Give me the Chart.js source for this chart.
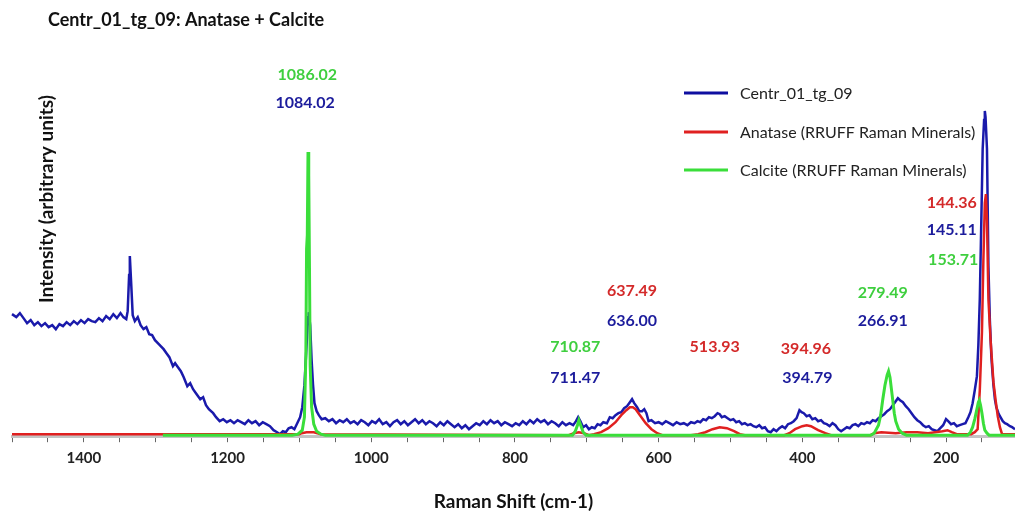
<!DOCTYPE html>
<html>
<head>
<meta charset="utf-8">
<title>Centr_01_tg_09: Anatase + Calcite</title>
<script src="https://cdn.jsdelivr.net/npm/chart.js@4.4.1/dist/chart.umd.min.js"></script>
<style>
  html, body { margin: 0; padding: 0; background: #ffffff; }
  #wrap { width: 1015px; height: 513px; position: relative; }
</style>
</head>
<body>
<div id="wrap"><canvas id="ramanChart" width="1015" height="513"></canvas></div>
<script>
// Raman shift (cm-1) / intensity pairs
const sampleSpectrum = [
  [1500,121],[1494,118],[1489,122],[1484,117],[1479,112],[1474,115],[1469,110],[1464,113],[1459,109],[1454,112],
  [1449,108],[1444,110],[1439,106],[1434,111],[1429,109],[1424,113],[1419,110],[1414,114],[1409,111],[1404,115],
  [1399,112],[1394,116],[1389,114],[1384,113],[1379,117],[1374,114],[1369,119],[1364,116],[1359,121],[1354,117],
  [1349,122],[1345,118],[1341,116],[1339,124],[1337,160],[1336,179],[1334,150],[1332,120],[1329,114],[1325,118],
  [1321,110],[1317,106],[1313,108],[1309,101],[1305,100],[1301,95],[1297,92],[1293,89],[1289,86],[1285,82],
  [1281,78],[1276,69],[1273,72],[1269,68],[1265,64],[1261,58],[1256,49],[1252,52],[1248,46],[1244,42],
  [1238,36],[1234,38],[1230,30],[1226,26],[1220,22],[1216,18],[1211,14],[1206,16],[1201,13],[1196,15],
  [1191,12],[1186,15],[1181,13],[1176,11],[1171,15],[1166,12],[1161,14],[1156,10],[1151,13],[1146,11],
  [1141,9],[1136,5],[1131,3],[1127,1],[1123,4],[1119,3],[1115,7],[1111,8],[1107,6],[1103,12],
  [1099,18],[1096,28],[1093,50],[1090,90],[1088,118],[1087,123],[1085,110],[1083,75],[1081,50],[1079,32],
  [1076,24],[1073,20],[1069,16],[1064,17],[1059,14],[1054,16],[1049,12],[1044,15],[1039,13],[1034,16],
  [1029,12],[1024,14],[1019,11],[1014,15],[1009,13],[1004,10],[999,14],[994,12],[989,16],[984,11],
  [979,13],[974,9],[969,13],[964,15],[959,11],[954,14],[949,10],[944,13],[939,16],[934,12],
  [929,15],[924,11],[919,14],[914,12],[909,9],[904,13],[899,10],[894,14],[889,11],[884,8],
  [879,11],[874,7],[869,10],[864,6],[859,9],[854,12],[849,10],[844,14],[839,11],[834,15],
  [829,12],[824,14],[819,10],[814,13],[809,11],[804,9],[799,12],[794,10],[789,14],[784,11],
  [779,15],[774,12],[769,16],[764,13],[759,15],[754,11],[749,14],[744,12],[739,9],[734,13],
  [729,10],[724,12],[719,10],[715,14],[712,18],[709,14],[705,8],[701,10],[697,6],[693,8],
  [689,7],[685,11],[681,10],[677,13],[672,12],[668,18],[664,17],[660,20],[656,22],[652,23],
  [648,27],[644,29],[640,33],[637,36],[634,32],[630,28],[627,24],[623,24],[620,26],[617,22],
  [614,14],[610,15],[605,12],[600,13],[595,11],[590,14],[585,12],[580,10],[575,13],[570,11],
  [565,12],[560,10],[555,13],[550,12],[546,14],[542,13],[538,16],[534,15],[530,18],[526,17],
  [522,19],[518,22],[515,21],[512,18],[508,19],[504,17],[500,15],[496,16],[492,13],[488,14],
  [484,11],[480,12],[476,10],[472,11],[468,9],[464,8],[460,10],[456,7],[452,8],[448,4],
  [444,3],[440,6],[436,4],[432,7],[428,9],[424,7],[420,11],[416,12],[412,14],[408,17],
  [404,25],[401,23],[398,22],[394,19],[390,20],[386,16],[382,17],[378,14],[374,15],[370,12],
  [366,11],[362,9],[358,12],[354,10],[350,6],[346,4],[342,6],[338,8],[334,7],[330,10],
  [326,11],[322,9],[318,12],[314,11],[310,13],[306,12],[302,15],[298,14],[294,17],[290,19],
  [286,21],[282,24],[278,26],[274,30],[270,34],[267,37],[264,35],[260,33],[256,29],[252,26],
  [248,22],[244,18],[240,15],[236,13],[232,10],[228,8],[224,9],[220,6],[216,5],[212,4],
  [208,7],[204,10],[200,16],[197,14],[193,11],[189,12],[185,9],[181,10],[177,11],[173,12],
  [169,18],[166,23],[163,32],[160,45],[157,59],[155,90],[153,136],[151,210],[149,286],[147,315],
  [146,324],[145,318],[143,286],[141,169],[139,115],[137,80],[136,69],[134,50],[132,36],[130,28],
  [127,22],[125,19],[121,14],[118,12],[115,11],[111,9],[108,8],[104,6]
];

const anataseRef = [
  [1500,1],[1100,1],[1097,2],[1090,3],[1080,3],[1070,1],[725,0],[718,2],[711,3],[704,2],
  [697,0],[690,1],[680,3],[670,7],[660,13],[652,20],[645,25],[640,28],[636,28],[632,26],
  [626,20],[618,12],[610,6],[602,2],[595,0],[555,0],[545,1],[535,3],[525,6],[515,8],
  [505,7],[495,4],[487,1],[480,0],[425,0],[418,2],[410,6],[400,9],[394,10],[388,9],
  [378,5],[368,2],[360,0],[305,0],[300,2],[290,3],[270,2],[255,3],[240,3],[225,2],
  [215,3],[205,4],[198,5],[192,3],[185,1],[175,1],[165,1],[160,3],[156,6],[153,45],
  [150,103],[148,175],[146,232],[144.5,241],[143,215],[141,136],[138,95],[134,53],[131,35],[128,19],
  [125,8],[122,1],[104,1]
];

const calciteRef = [
  [1290,0],[1110,0],[1102,1],[1096,5],[1093,18],[1091,80],[1090,186],[1089,200],[1088,283],[1087,260],
  [1086,170],[1085,70],[1083,28],[1080,11],[1076,4],[1070,1],[1064,0],[720,0],[716,4],[713,10],
  [711,15],[708,9],[705,3],[701,0],[305,0],[300,2],[294,10],[291,20],[288,36],[285,50],
  [282,60],[280,64],[278,58],[275,40],[272,22],[270,14],[266,6],[261,2],[255,0],[170,0],
  [166,3],[163,8],[160,16],[157,26],[155,33],[153.7,35],[152,30],[150,22],[148,12],[146,5],
  [143,2],[140,0],[104,0]
];

const seriesNames = ["Centr_01_tg_09", "Anatase (RRUFF Raman Minerals)", "Calcite (RRUFF Raman Minerals)"];
const seriesColors = ["#1a1aab", "#e02020", "#3ade3a"];

// peak labels: text, colour index, shift (cm-1), intensity
const peakLabels = [
  ["1086.02", 2, 1089, 360], ["1084.02", 0, 1092, 332],
  ["637.49", 1, 637, 144], ["636.00", 0, 637, 114],
  ["710.87", 2, 716, 88], ["711.47", 0, 716, 57],
  ["513.93", 1, 522, 88],
  ["394.96", 1, 395, 86], ["394.79", 0, 393, 57],
  ["279.49", 2, 288, 142], ["266.91", 0, 288, 114],
  ["144.36", 1, 192, 232], ["145.11", 0, 192, 205], ["153.71", 2, 190, 175]
];
const labelColors = ["#1c1c9c", "#d42a2a", "#3fcf3f"];

const xTicksMajor = [1400, 1200, 1000, 800, 600, 400, 200];

Chart.defaults.font.family = "Lato, 'Open Sans', sans-serif";
Chart.defaults.color = "#222";

// text that lives outside the normal Chart.js boxes
const overlayText = {
  id: "overlayText",
  afterDatasetsDraw(chart) {
    const c = chart.ctx;
    const xs = chart.scales.x, ys = chart.scales.y;
    c.save();

    c.fillStyle = "#111";
    c.font = "bold 18px Lato";
    c.textAlign = "left";
    c.textBaseline = "middle";
    c.fillText("Centr_01_tg_09: Anatase + Calcite", 48, 20);

    c.save();
    c.translate(47, 199);
    c.rotate(-Math.PI / 2);
    c.textAlign = "center";
    c.font = "bold 19px Lato";
    c.fillText("Intensity (arbitrary units)", 0, 0);
    c.restore();

    // legend
    const legendY = [93, 132, 170];
    c.font = "16px Lato";
    seriesNames.forEach((name, i) => {
      c.strokeStyle = i === 0 ? "#0e0ea0" : seriesColors[i];
      c.lineWidth = 3;
      c.beginPath();
      c.moveTo(684, legendY[i]);
      c.lineTo(728, legendY[i]);
      c.stroke();
      c.fillStyle = "#222";
      c.textAlign = "left";
      c.fillText(name, 740, legendY[i] + 1);
    });

    // peak positions
    c.font = "bold 16px Lato";
    c.textAlign = "center";
    peakLabels.forEach(([txt, col, sx, sy]) => {
      c.fillStyle = labelColors[col];
      c.fillText(txt, xs.getPixelForValue(sx), ys.getPixelForValue(sy));
    });
    c.restore();
  }
};

const ctx = document.getElementById("ramanChart").getContext("2d");
new Chart(ctx, {
  type: "line",
  data: {
    datasets: [
      { label: seriesNames[0], data: sampleSpectrum, borderColor: seriesColors[0], borderWidth: 2.5, order: 2 },
      { label: seriesNames[1], data: anataseRef, borderColor: seriesColors[1], borderWidth: 2.5, order: 1 },
      { label: seriesNames[2], data: calciteRef, borderColor: seriesColors[2], borderWidth: 3, order: 0 }
    ]
  },
  options: {
    responsive: false,
    animation: false,
    events: [],
    elements: { point: { radius: 0 }, line: { tension: 0 } },
    datasets: { line: { clip: false } },
    layout: { padding: { left: 12, right: 0, top: 96, bottom: 0 } },
    plugins: { legend: { display: false }, tooltip: { enabled: false } },
    scales: {
      x: {
        type: "linear",
        reverse: true,
        min: 104,
        max: 1500,
        grid: { drawOnChartArea: false, tickLength: 6, tickColor: "#666", tickWidth: 1 },
        border: { display: true, color: "#c4c4c4", width: 3 },
        ticks: {
          stepSize: 50,
          includeBounds: false,
          autoSkip: false,
          maxRotation: 0,
          padding: 7,
          font: { size: 15, weight: "bold" },
          color: "#222",
          callback: (v) => xTicksMajor.includes(v) ? String(v) : ""
        },
        title: {
          display: true,
          text: "Raman Shift (cm-1)",
          font: { size: 19, weight: "bold" },
          color: "#111",
          padding: { top: 16, bottom: 0 }
        }
      },
      y: {
        display: false,
        min: -1,
        max: 339
      }
    }
  },
  plugins: [overlayText]
});
</script>
</body>
</html>
